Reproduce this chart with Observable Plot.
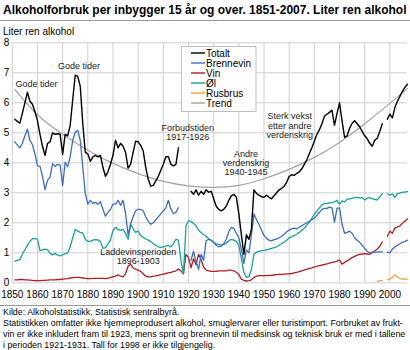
<!DOCTYPE html>
<html>
<head>
<meta charset="utf-8">
<script src="https://cdn.jsdelivr.net/npm/d3@7"></script>
<script src="https://cdn.jsdelivr.net/npm/@observablehq/plot@0.6"></script>
<style>
  html, body { margin: 0; padding: 0; background: #fff; }
  body { width: 410px; height: 350px; position: relative; overflow: hidden;
         font-family: "Liberation Sans", Arial, sans-serif; color: #000; }
  .abs { position: absolute; white-space: nowrap; }
  #title { left: 3px; top: 3px; font-size: 12px; font-weight: bold; line-height: 14px; }
  #rule1 { left: 0; top: 20px; width: 410px; height: 1px; background: #9a9a9a; }
  #ylabel { left: 3px; top: 25.7px; font-size: 10px; line-height: 12px; z-index: 2; }
  #chart { left: 0; top: 36px; }
  #legend { left: 0; top: 0; z-index: 3; }
  #rule2 { left: 0; top: 305px; width: 410px; height: 1px; background: #9a9a9a; }
  #foot { left: 3px; top: 307px; line-height: 10.9px; }
</style>
</head>
<body>
<div id="title" class="abs">Alkoholforbruk per inbygger 15 år og over. 1851-2007. Liter ren alkohol</div>
<div id="rule1" class="abs"></div>
<div id="ylabel" class="abs">Liter ren alkohol</div>
<div id="chart" class="abs"></div>
<div id="rule2" class="abs"></div>
<div id="foot" class="abs"></div>
<script>
// ---------- DATA ----------
const firstYear = 1851; // series below run 1851..2007, null = no data

const totalt = [
  5.45, 5.38, 5.32, 5.65, 6.0, 6.35, 6.05, 5.95, 5.7, 5.4,        // 1851-1860
  4.95, 4.55, 4.25, 4.65, 4.7, 5.0, 4.95, 4.97, 4.95, 4.28,       // 1861-1870
  4.95, 4.9, 5.25, 6.1, 6.92, 6.88, 6.55, 5.3, 4.35, 4.3,         // 1871-1880
  4.05, 4.2, 4.25, 4.2, 4.25, 3.85, 3.55, 3.7, 3.95, 4.25,        // 1881-1890
  4.75, 4.5, 4.65, 4.55, 4.35, 3.82, 3.95, 4.35, 4.72, 4.7,       // 1891-1900
  4.58, 4.4, 3.85, 3.45, 3.22, 3.25, 3.4, 3.55, 3.75, 3.95,       // 1901-1910
  4.2, 4.2, 3.95, 3.9, 3.95, 4.5, null, null, null, null,         // 1911-1920
  3.05, 2.95, 3.1, 2.92, 3.05, 2.95, 3.1, 3.02, 3.05, 2.8,        // 1921-1930
  2.55, 2.45, 2.4, 2.45, 2.55, 2.75, 2.9, 2.95, 2.85, 2.3,        // 1931-1940
  1.6, 0.95, 1.6, 1.45, 1.8, 3.1, 2.98, 2.92, 2.87, 2.85,         // 1941-1950
  2.92, 2.85, 2.8, 2.9, 3.0, 3.1, 3.15, 3.22, 3.35, 3.55,         // 1951-1960
  3.6, 3.58, 3.65, 3.7, 3.8, 3.95, 4.1, 4.3, 4.5, 4.72,           // 1961-1970
  4.95, 5.1, 5.3, 5.55, 5.62, 5.68, 5.75, 5.25, 5.65, 6.0,        // 1971-1980
  5.4, 4.85, 4.9, 5.15, 5.32, 5.4, 5.3, 5.2, 5.05, 4.9,           // 1981-1990
  4.8, 4.65, 4.55, 4.75, 4.82, 5.05, 5.3, null, 5.45, 5.62,       // 1991-2000
  5.5, 5.85, 6.05, 6.22, 6.38, 6.52, 6.62                         // 2001-2007
];

const brennevin = [
  4.7, 4.6, 4.5, 4.65, 4.9, 5.12, 4.75, 4.6, 4.3, 3.9,
  3.88, 3.55, 3.1, 3.42, 3.52, 3.97, 3.88, 3.95, 3.92, 3.25,
  4.02, 3.87, 4.2, 4.75, 5.02, 5.08, 4.75, 3.85, 2.98, 2.62,
  2.75, 2.65, 2.68, 2.62, 2.7, 2.45, 2.22, 2.35, 2.45, 2.62,
  2.62, 2.75, 2.58, 2.75, 2.3, 1.6, 1.95, 2.2, 2.4, 2.45,
  2.45, 2.4, 2.2, 2.05, 1.95, 2.0, 2.1, 2.2, 2.3, 2.4,
  2.5, 2.75, 2.45, 2.3, 2.35, 2.5, null, null, null, null,
  0.75, 1.05, 0.7, 0.45, 0.95, 0.75, 1.4, 1.45, 1.42, 1.35,
  1.25, 1.2, 1.22, 1.3, 1.45, 1.7, 1.85, 1.82, 1.65, 1.5,
  1.1, 0.65, 1.1, 1.0, 1.6, 2.3, 2.1, 1.95, 1.75, 1.58,
  1.48, 1.42, 1.4, 1.44, 1.46, 1.5, 1.55, 1.62, 1.7, 1.76,
  1.8, 1.82, 1.8, 1.85, 1.9, 1.95, 2.0, 2.05, 2.1, 2.15,
  2.25, 2.35, 2.45, 2.48, 2.48, 2.52, 2.5, 2.02, 2.48, 2.5,
  1.95, 1.65, 1.68, 1.72, 1.65, 1.5, 1.42, 1.35, 1.25, 1.15,
  1.05, 1.0, 1.02, 1.02, 1.02, 1.03, 1.03, null, 1.02, 1.0,
  1.12, 1.2, 1.25, 1.3, 1.35, 1.38, 1.42
];

const vin = [
  0.1, 0.1, 0.11, 0.11, 0.1, 0.1, 0.09, 0.08, 0.07, 0.07,
  0.07, 0.08, 0.08, 0.09, 0.1, 0.1, 0.1, 0.11, 0.11, 0.12,
  0.13, 0.14, 0.16, 0.17, 0.18, 0.18, 0.17, 0.16, 0.15, 0.14,
  0.14, 0.15, 0.15, 0.15, 0.15, 0.15, 0.14, 0.15, 0.18, 0.2,
  0.22, 0.27, 0.22, 0.2, 0.3, 0.55, 0.62, 0.5, 0.45, 0.42,
  0.38, 0.3, 0.22, 0.2, 0.2, 0.22, 0.23, 0.25, 0.27, 0.29,
  0.31, 0.33, 0.35, 0.37, 0.4, 0.46, 0.4, 0.3, 0.95, 0.85,
  0.5, 0.8, 0.6, 0.95, 0.78, 0.52, 0.42, 0.4, 0.38, 0.38,
  0.38, 0.4, 0.4, 0.4, 0.4, 0.42, 0.42, 0.4, 0.35, 0.28,
  0.12, 0.08, 0.06, 0.07, 0.1, 0.18, 0.22, 0.24, 0.24, 0.24,
  0.24, 0.25, 0.25, 0.26, 0.27, 0.28, 0.28, 0.29, 0.3, 0.3,
  0.31, 0.33, 0.35, 0.37, 0.4, 0.43, 0.45, 0.48, 0.5, 0.53,
  0.55, 0.57, 0.59, 0.61, 0.63, 0.66, 0.68, 0.7, 0.72, 0.76,
  0.62, 0.68, 0.73, 0.78, 0.84, 0.88, 0.92, 0.95, 0.96, 0.97,
  0.96, 0.95, 1.0, 1.06, 1.13, 1.22, 1.36, null, 1.55, 1.72,
  1.65, 1.82, 1.86, 1.9, 1.98, 2.06, 2.13
];

const ol = [
  0.72, 0.75, 0.78, 0.95, 1.1, 1.25, 1.38, 1.47, 1.48, 1.45,
  1.07, 1.1, 1.12, 1.1, 0.98, 0.93, 0.98, 0.92, 0.9, 0.93,
  0.97, 1.0, 1.2, 1.5, 1.78, 1.72, 1.68, 1.66, 1.45, 1.38,
  1.38, 1.42, 1.44, 1.43, 1.38, 1.15, 1.17, 1.3, 1.42, 1.75,
  1.85, 1.78, 1.75, 1.78, 1.65, 1.45, 1.95, 1.8, 1.68, 1.72,
  1.58, 1.52, 1.46, 1.42, 1.38, 1.3, 1.25, 1.2, 1.18, 1.2,
  1.22, 1.25, 1.2, 1.3, 1.45, 1.42, 0.75, 0.3, 1.9, 2.07,
  2.05, 1.98, 1.9, 1.75, 1.68, 1.6, 1.55, 1.47, 1.42, 1.35,
  1.3, 1.28, 1.27, 1.28, 1.32, 1.4, 1.45, 1.42, 1.38, 1.25,
  0.8, 0.35, 0.18, 0.2, 0.45, 0.95, 1.02, 1.05, 1.07, 1.08,
  1.1, 1.12, 1.15, 1.17, 1.2, 1.25, 1.3, 1.35, 1.42, 1.5,
  1.53, 1.57, 1.62, 1.68, 1.75, 1.82, 1.92, 2.02, 2.15, 2.28,
  2.4, 2.5, 2.6, 2.64, 2.65, 2.66, 2.67, 2.7, 2.75, 2.62,
  2.73, 2.7, 2.78, 2.8, 2.82, 2.84, 2.85, 2.83, 2.84, 2.76,
  2.82, 2.84, 2.8, 2.78, 2.76, 2.88, 2.96, null, 2.96, 2.92,
  2.96, 2.85, 2.97, 2.99, 3.02, 3.02, 3.04
];

const rusbrusFirstYear = 1995;
const rusbrus = [0.05, 0.07, 0.08, null, 0.1, 0.12, 0.18, 0.26, 0.2, 0.14, 0.12, 0.12, 0.12];

const trendYears  = [1851, 1860, 1870, 1880, 1890, 1900, 1910, 1920, 1930, 1940, 1950, 1960, 1970, 1980, 1990, 2000, 2007];
const trendValues = [6.45, 5.6, 4.95, 4.42, 3.98, 3.64, 3.38, 3.23, 3.18, 3.25, 3.47, 3.78, 4.18, 4.68, 5.3, 5.98, 6.48];

const seriesNames  = ["Totalt", "Brennevin", "Vin", "Øl", "Rusbrus", "Trend"];
const seriesColors = ["#000000", "#3b6cc4", "#b01e22", "#17a29b", "#f6a02f", "#a3a3a3"];

const xTicks = [1850, 1860, 1870, 1880, 1890, 1900, 1910, 1920, 1930, 1940, 1950, 1960, 1970, 1980, 1990, 2000];
const yTicks = [0, 1, 2, 3, 4, 5, 6, 7, 8];

const annoText  = ["Gode tider", "Gode tider", "Forbudstiden\n1917-1926", "Andre\nverdenskrig\n1940-1945",
                   "Sterk vekst\netter andre\nverdenskrig", "Laddevinsperioden\n1896-1903"];
const annoYear  = [1859.6, 1876.5, 1919.7, 1942.8, 1960.2, 1900.0];
const annoValue = [6.61, 7.21, 5.01, 3.99, 5.24, 0.88];

const footLines = [
  "Kilde: Alkoholstatistikk, Statistisk sentralbyrå.",
  "Statistikken omfatter ikke hjemmeprodusert alkohol, smuglervarer eller turistimport. Forbruket av frukt-",
  "vin er ikke inkludert fram til 1923, mens sprit og brennevin til medisinsk og teknisk bruk er med i tallene",
  "i perioden 1921-1931. Tall for 1998 er ikke tilgjengelig."
];

// ---------- BUILD ----------
const toRows = (arr, y0) => arr.map((v, i) => ({year: y0 + i, value: v}));
const rows = {
  Totalt: toRows(totalt, firstYear),
  Brennevin: toRows(brennevin, firstYear),
  Vin: toRows(vin, firstYear),
  "Øl": toRows(ol, firstYear),
  Rusbrus: toRows(rusbrus, rusbrusFirstYear)
};
const trendRows = trendYears.map((y, i) => ({year: y, value: trendValues[i]}));
const annos = annoText.map((t, i) => ({text: t, year: annoYear[i], value: annoValue[i]}));
const color = Object.fromEntries(seriesNames.map((n, i) => [n, seriesColors[i]]));

const lineOpts = (name, w) => ({x: "year", y: "value", stroke: color[name], strokeWidth: w, strokeLinejoin: "round"});

const chart = Plot.plot({
  width: 410,
  height: 266,
  marginTop: 6.3,
  marginBottom: 19.7,
  marginLeft: 11.8,
  marginRight: 3,
  style: {fontFamily: "Liberation Sans, Arial, sans-serif", fontSize: "10px", color: "#000", background: "transparent"},
  x: {domain: [1850, 2007]},
  y: {domain: [0, 8]},
  marks: [
    Plot.gridX(xTicks, {stroke: "#cfcfcf", strokeOpacity: 1, strokeWidth: 1}),
    Plot.gridY(yTicks, {stroke: "#cfcfcf", strokeOpacity: 1, strokeWidth: 1}),
    Plot.axisX(xTicks, {tickSize: 0, tickPadding: 8.5, tickFormat: d => String(d), label: null, fontSize: 10}),
    Plot.axisY(yTicks, {tickSize: 0, tickPadding: 3, label: null, fontSize: 10}),
    Plot.line(trendRows, {...lineOpts("Trend", 1.2), curve: "natural"}),
    Plot.line(rows.Rusbrus, lineOpts("Rusbrus", 1.2)),
    Plot.line(rows.Vin, lineOpts("Vin", 1.3)),
    Plot.line(rows["Øl"], lineOpts("Øl", 1.3)),
    Plot.line(rows.Brennevin, lineOpts("Brennevin", 1.3)),
    Plot.line(rows.Totalt, lineOpts("Totalt", 1.4)),
    Plot.text(annos, {x: "year", y: "value", text: "text", fontSize: 9, lineHeight: 1.03, fill: "#1a1a1a"})
  ]
});
document.getElementById("chart").appendChild(chart);

// ---------- LEGEND ----------
const leg = d3.select("body").append("svg")
  .attr("id", "legend").attr("class", "abs")
  .attr("width", 410).attr("height", 120)
  .style("font-family", "Liberation Sans, Arial, sans-serif").style("font-size", "10px");
leg.append("rect").attr("x", 181.5).attr("y", 46.5).attr("width", 74.5).attr("height", 65)
  .attr("fill", "#fff").attr("stroke", "#bdbdbd");
seriesNames.forEach((n, i) => {
  const y = 53 + i * 10;
  leg.append("line").attr("x1", 191).attr("x2", 205).attr("y1", y).attr("y2", y)
    .attr("stroke", color[n]).attr("stroke-width", 1.4);
  leg.append("text").attr("x", 206).attr("y", y).attr("dy", "0.35em").attr("fill", "#000").text(n);
});

// ---------- FOOTNOTE ----------
const foot = document.getElementById("foot");
const cv = document.createElement("canvas").getContext("2d");
cv.font = "10px 'Liberation Sans'";
const widest = Math.max(...footLines.map(l => cv.measureText(l).width));
foot.style.fontSize = (10 * 403 / widest).toFixed(2) + "px";
foot.innerHTML = footLines.map(l => l.replace(/&/g, "&amp;")).join("<br>");
</script>
</body>
</html>
